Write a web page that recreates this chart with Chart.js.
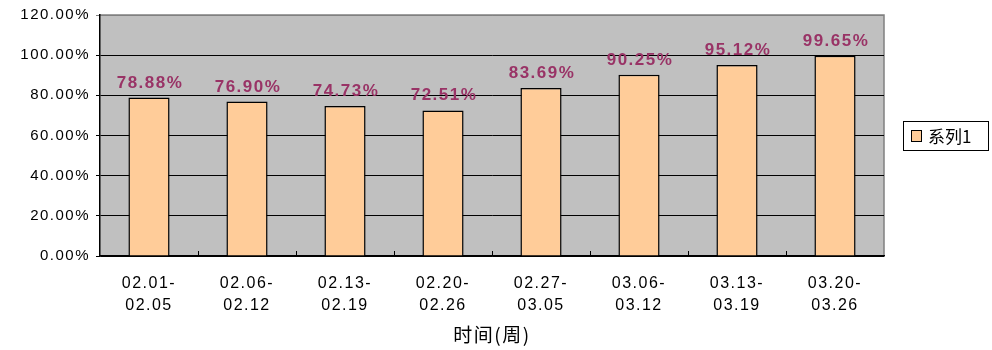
<!DOCTYPE html>
<html>
<head>
<meta charset="utf-8">
<script src="https://cdn.jsdelivr.net/npm/chart.js@4/dist/chart.umd.min.js"></script>
<style>
  html, body { margin: 0; padding: 0; background: #fff; }
  #wrap { width: 992px; height: 350px; }
</style>
</head>
<body>
<div id="wrap"><canvas id="myChart" width="992" height="350"></canvas></div>
<script>
const weeks = [
    ['02.01-', '02.05'], ['02.06-', '02.12'], ['02.13-', '02.19'], ['02.20-', '02.26'],
    ['02.27-', '03.05'], ['03.06-', '03.12'], ['03.13-', '03.19'], ['03.20-', '03.26']
];
const rates = [78.88, 76.90, 74.73, 72.51, 83.69, 90.25, 95.12, 99.65];
const seriesName = '系列1';
const axisTitle = '时间(周)';
const yMax = 120;
const yStep = 20;

const FONT = '"Liberation Sans", Arial, sans-serif';

// wide letter spacing like the old office chart
const spacing = {
    id: 'spacing',
    beforeDraw(chart) { chart.ctx.letterSpacing = '1.5px'; }
};

// grey plot background + grey frame on top/right
const plotBg = {
    id: 'plotBg',
    beforeDraw(chart) {
        const { ctx, chartArea: a } = chart;
        ctx.save();
        ctx.fillStyle = '#C0C0C0';
        ctx.fillRect(a.left, a.top, a.right - a.left, a.bottom - a.top);
        ctx.strokeStyle = '#808080';
        ctx.lineWidth = 1.5;
        ctx.beginPath();
        ctx.moveTo(a.left, a.top);
        ctx.lineTo(a.right, a.top);
        ctx.lineTo(a.right, a.bottom);
        ctx.stroke();
        ctx.restore();
    },
    afterDatasetsDraw(chart) {
        // small inward ticks between categories on the x axis
        const { ctx, chartArea: a } = chart;
        const x = chart.scales.x;
        ctx.save();
        ctx.strokeStyle = '#000';
        ctx.lineWidth = 1;
        for (let i = 1; i < weeks.length; i++) {
            const px = Math.round((x.getPixelForValue(i - 1) + x.getPixelForValue(i)) / 2) + 0.5;
            ctx.beginPath();
            ctx.moveTo(px, a.bottom);
            ctx.lineTo(px, a.bottom - 5);
            ctx.stroke();
        }
        ctx.restore();
    }
};

// value labels above the bars
const valueLabels = {
    id: 'valueLabels',
    afterDatasetsDraw(chart) {
        const { ctx } = chart;
        const meta = chart.getDatasetMeta(0);
        ctx.save();
        ctx.letterSpacing = '1.5px';
        ctx.font = 'bold 17px ' + FONT;
        ctx.fillStyle = '#993366';
        ctx.textAlign = 'center';
        ctx.textBaseline = 'alphabetic';
        meta.data.forEach((bar, i) => {
            ctx.fillText(rates[i].toFixed(2) + '%', bar.x + 1, bar.y - 10);
        });
        ctx.restore();
    }
};

// boxed legend on the right
const boxLegend = {
    id: 'boxLegend',
    afterDraw(chart) {
        const { ctx, chartArea: a } = chart;
        const left = a.right + 19;
        const w = 85, h = 29;
        const top = Math.round((a.top + a.bottom) / 2 - h / 2);
        ctx.save();
        ctx.fillStyle = '#fff';
        ctx.fillRect(left, top, w, h);
        ctx.strokeStyle = '#000';
        ctx.lineWidth = 1;
        ctx.strokeRect(left + 0.5, top + 0.5, w, h);
        ctx.fillStyle = '#FFCC99';
        ctx.fillRect(left + 8, top + 9, 10, 11);
        ctx.strokeRect(left + 8.5, top + 9.5, 10, 11);
        ctx.fillStyle = '#000';
        ctx.letterSpacing = '0px';
        ctx.font = '17px "Noto Sans CJK SC", ' + FONT;
        ctx.textBaseline = 'middle';
        ctx.textAlign = 'left';
        ctx.fillText(seriesName, left + 25, top + h / 2 + 1);
        ctx.restore();
    }
};

const ctx = document.getElementById('myChart').getContext('2d');

const myChart = new Chart(ctx, {
    type: 'bar',
    data: {
        labels: weeks,
        datasets: [{
            label: seriesName,
            data: rates,
            backgroundColor: '#FFCC99',
            borderColor: '#000',
            borderWidth: 1.5,
            barPercentage: 0.42,
            categoryPercentage: 1
        }]
    },
    options: {
        responsive: false,
        animation: false,
        layout: { padding: { top: 14, right: 108, left: 0, bottom: 0 } },
        plugins: {
            legend: { display: false },
            tooltip: { enabled: false }
        },
        scales: {
            x: {
                grid: { display: false },
                border: { color: '#000', width: 1.5 },
                ticks: {
                    color: '#000',
                    font: { family: FONT, size: 16, lineHeight: 1.36 },
                    padding: 9,
                    maxRotation: 0
                },
                title: {
                    display: true,
                    text: axisTitle,
                    color: '#000',
                    font: { family: '"Noto Sans CJK SC", ' + FONT, size: 19 },
                    padding: { top: 0, bottom: 4 }
                },
                afterFit(scale) { scale.height = 94; }
            },
            y: {
                min: 0,
                max: yMax,
                border: { color: '#000', width: 1.5 },
                grid: {
                    color: c => c.tick.value === yMax ? '#808080' : '#000',
                    lineWidth: 1,
                    tickLength: 4
                },
                ticks: {
                    stepSize: yStep,
                    color: '#000',
                    font: { family: FONT, size: 15 },
                    padding: 6,
                    callback: v => v.toFixed(2) + '%'
                },
                afterFit(scale) { scale.width = 100; }
            }
        }
    },
    plugins: [spacing, plotBg, valueLabels, boxLegend]
});
</script>
</body>
</html>
